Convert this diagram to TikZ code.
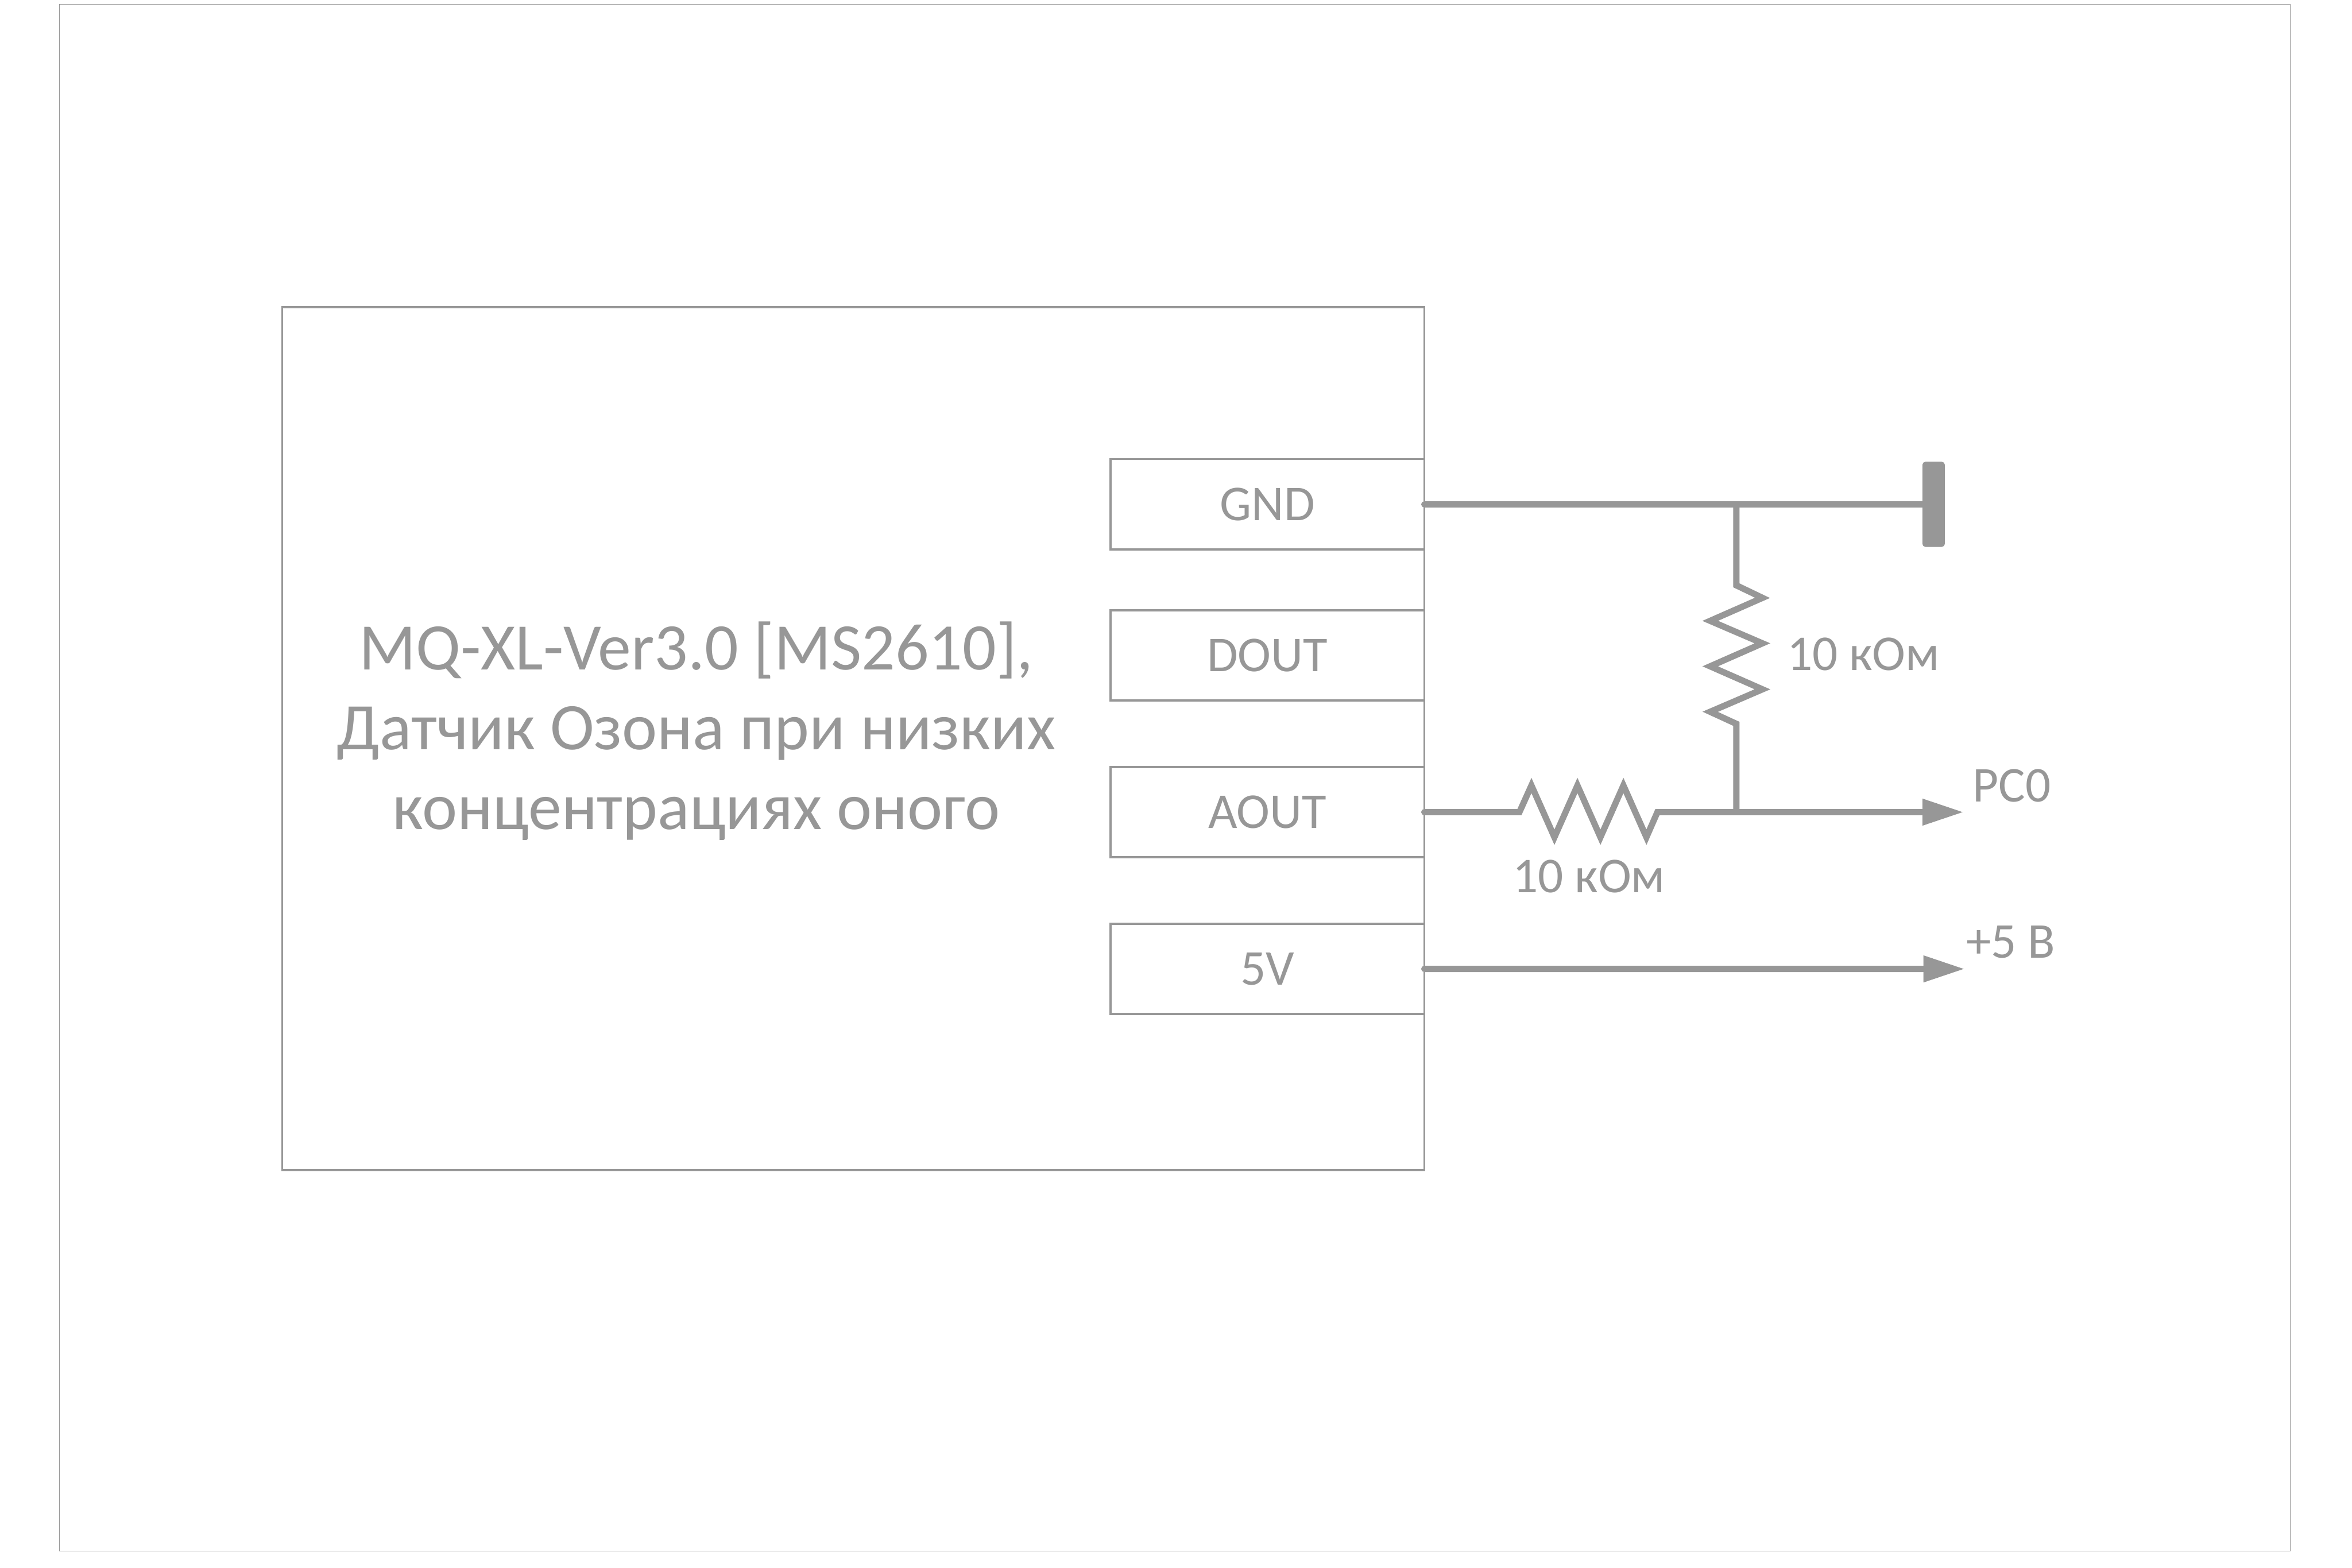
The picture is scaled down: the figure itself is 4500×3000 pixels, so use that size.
\documentclass[tikz,border=0pt]{standalone}
\usepackage{fontspec}
\setmainfont{Carlito}
\usetikzlibrary{arrows.meta,positioning}
\definecolor{wiregray}{HTML}{979797}
\tikzset{
  framebox/.style={draw=wiregray,line width=.15mm,minimum width=426.8mm,minimum height=296mm,outer sep=0pt},
  mainbox/.style={draw=wiregray,line width=.4mm,minimum width=218.5mm,minimum height=165.1mm,outer sep=0pt},
  pinbox/.style={draw=wiregray,line width=.4mm,minimum width=60mm,minimum height=17.3mm,outer sep=0pt,inner sep=0pt,text=wiregray,font=\pinfont},
  wire/.style={draw=wiregray,line width=1.2mm,line cap=round},
  lbl/.style={inner sep=0pt,text=wiregray,font=\pinfont},
  outarrow/.style={-{Triangle[length=7.7mm,width=5.2mm,line width=0pt]}}
}
\newcommand{\pinfont}{\fontsize{27.3}{32}\selectfont}
\begin{document}
\begin{tikzpicture}[x=.1mm,y=-.1mm]
  \useasboundingbox (0,0) rectangle (4500,3000);
  \node [framebox] (frame) at (2248,1488) {};
  \node [mainbox] (sensor) at (1632.5,1413.5) {};
  \node [inner sep=0pt,text=wiregray,align=center,font=\fontsize{36.2}{43.4}\selectfont] (title) at (1332,1399)
    {MQ-XL-Ver3.0 [MS2610],\\Датчик Озона при низких\\концентрациях оного};
  \node [pinbox] (gnd) at (2425,965) {GND};
  \node [pinbox,below=11.6mm of gnd] (dout) {DOUT};
  \node [pinbox,below=12.7mm of dout] (aout) {AOUT};
  \node [pinbox,below=12.7mm of aout] (fivev) {5V};
  \node [fill=wiregray,rounded corners=.6mm,minimum width=4.3mm,minimum height=16.3mm,inner sep=0pt,outer sep=0pt] (earth) at (3699.5,965) {};
  \coordinate (pc0tip) at (3755,1554);
  \coordinate (vcctip) at (3757,1854);
  % upper resistor
  \coordinate (ruptop) at (3322,965);
  \coordinate (rupbot) at (3322,1554);
  % lower resistor
  \coordinate (rlowin) at (2907,1554);
  \draw [wire] (gnd.east) -- (earth.west);
  \draw [wire,line cap=butt,miter limit=10] (ruptop) -- (3322,1120) -- (3372,1144) -- (3272,1188) -- (3372,1231) -- (3272,1275) -- (3372,1319) -- (3272,1362) -- (3322,1385) -- (rupbot);
  \draw [wire,miter limit=10] (aout.east) -- (rlowin) -- (2930,1503) -- (2974,1602) -- (3018,1503) -- (3062,1602) -- (3106,1503) -- (3150,1602) -- (3171,1554) -- (rupbot);
  \draw [wire,outarrow] (rupbot) -- (pc0tip);
  \draw [wire,outarrow] (fivev.east) -- (vcctip);
  \node [lbl] (rupval) at (3565,1252) {10 кОм};
  \node [lbl] (rlowval) at (3040,1677) {10 кОм};
  \node [lbl] (pc0) at (3849,1503) {PC0};
  \node [lbl] (vcc) at (3847,1803) {+5 В};
\end{tikzpicture}
\end{document}
